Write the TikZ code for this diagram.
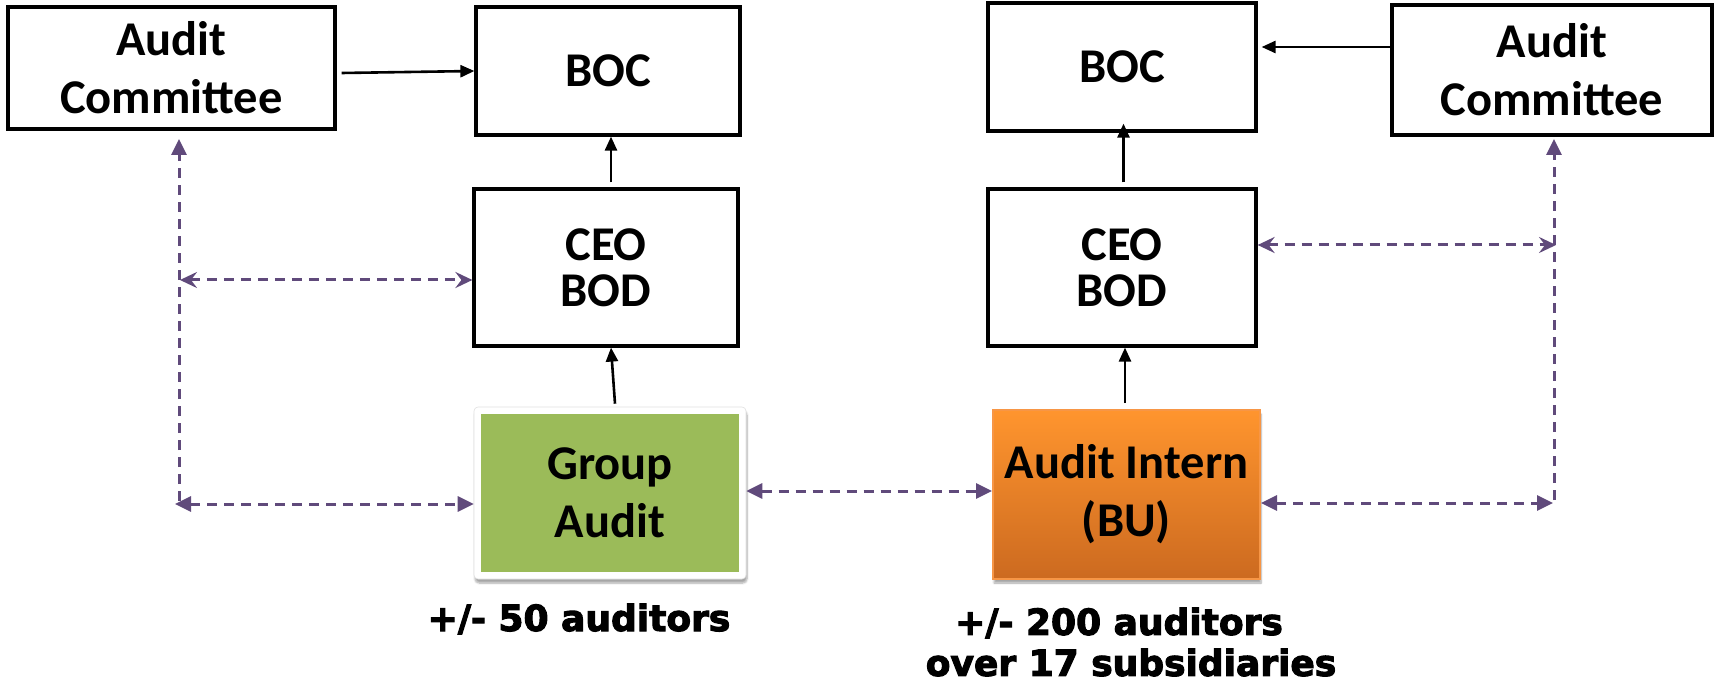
\documentclass[tikz,border=0pt]{standalone}
\usepackage{fontspec}
\setmainfont{Carlito}
\newfontfamily\labelfont{DejaVu Sans}[BoldFeatures={FakeBold=3}]
\usetikzlibrary{arrows.meta,shadows.blur,calc}

\definecolor{linkpurple}{RGB}{96,74,123}
\definecolor{groupgreen}{RGB}{155,187,89}
\definecolor{orangetop}{RGB}{255,149,46}
\definecolor{orangebot}{RGB}{204,106,32}
\definecolor{orangeedge}{RGB}{247,150,70}

\tikzset{
  orgbox/.style={draw=black, line width=3.2pt, fill=white, inner sep=0pt,
    align=center, font=\fontsize{48.5}{58}\selectfont\bfseries},
  tightlines/.style={font=\fontsize{48.5}{46}\selectfont\bfseries},
  report/.style={draw=black, line width=2.6pt, -{Triangle[length=14pt,width=12pt]}},
  link/.style={draw=linkpurple, line width=3pt, dash pattern=on 10pt off 7pt},
  ftip/.tip={Triangle[length=16pt,width=15pt]},
  btip/.tip={Stealth[length=17pt,width=16pt,inset=6pt]},
  headcount/.style={inner sep=0pt, align=center,
    font=\labelfont\fontsize{36}{41}\selectfont\bfseries}
}

\begin{document}
\begin{tikzpicture}[x=1pt,y=-1pt]
\useasboundingbox (0,0) rectangle (1721,684);

% ---- left organisation ----
\node[orgbox, minimum width=327pt, minimum height=122pt] (lac) at (171.5,68) {Audit\\Committee};
\node[orgbox, minimum width=264pt, minimum height=128pt] (lboc) at (608,71) {BOC};
\node[orgbox, tightlines, minimum width=264pt, minimum height=157pt] (lceo) at (606,267.5) {CEO\\BOD};
\node[fill=white, draw=black!12, line width=0.6pt, rounded corners=4pt,
      minimum width=272pt, minimum height=172pt, inner sep=0pt,
      blur shadow={shadow xshift=1pt, shadow yshift=-4pt, shadow blur steps=6, shadow opacity=35}]
      (ga) at (610,493) {};
\node[fill=groupgreen, minimum width=258pt, minimum height=158pt, inner sep=0pt,
      align=center, font=\fontsize{48.5}{58}\selectfont\bfseries] (gafill) at (ga.center) {Group\\Audit};
\node[headcount, anchor=base] (galabel) at (579,631) {+/- 50 auditors};

% ---- right organisation ----
\node[orgbox, minimum width=268pt, minimum height=128pt] (rboc) at (1122,67) {BOC};
\node[orgbox, minimum width=320pt, minimum height=130pt] (rac) at (1552,70) {Audit\\Committee};
\node[orgbox, tightlines, minimum width=268pt, minimum height=157pt] (rceo) at (1122,267.5) {CEO\\BOD};
\node[draw=orangeedge, line width=2pt, top color=orangetop, bottom color=orangebot,
      minimum width=267pt, minimum height=169pt, inner sep=0pt, align=center,
      font=\fontsize{48.5}{58}\selectfont\bfseries,
      blur shadow={shadow xshift=1pt, shadow yshift=-4pt, shadow blur steps=6, shadow opacity=35}]
      (ai) at (1126.5,494.5) {Audit Intern\\(BU)};
\node[headcount] (ailabel) at (1131,642) {+/- 200 auditors\hspace*{24pt}\\over 17 subsidiaries};

% ---- reporting lines ----
\draw[report] ([xshift=5pt,yshift=-5pt]lac.east) -- ([yshift=0pt]lboc.west);
\draw[report] ([xshift=5pt,yshift=5pt]lceo.north) -- ([xshift=3pt]lboc.south);
\draw[report] ([xshift=5pt,yshift=3pt]ga.north) -- ([xshift=5pt]lceo.south);
\draw[report] ([yshift=23pt]rac.west) -- ([xshift=4pt,yshift=20pt]rboc.east);
\draw[report] ([xshift=1.5pt,yshift=5pt]rceo.north) -- ([xshift=1.5pt,yshift=9pt]rboc.south);
\draw[report] ([xshift=-1.5pt,yshift=6pt]ai.north) -- ([xshift=3pt]rceo.south);

% ---- coordination links, left ----
\coordinate (lvtop) at (179,139);
\coordinate (lvbot) at (179,501);
\coordinate (lmid) at (180,280);
\coordinate (llow) at (175,504);
\draw[link, -ftip] (lvbot) -- (lvtop);
\draw[link, btip-btip] (lmid) -- (lceo.west |- lmid);
\draw[link, ftip-ftip] (llow) -- (ga.west |- llow);

% ---- coordination link between audit functions ----
\coordinate (gamid) at ([yshift=2pt]ga.east);
\draw[link, ftip-ftip] (gamid) -- (ai.west |- gamid);

% ---- coordination links, right ----
\coordinate (rvtop) at (1554,139);
\coordinate (rvbot) at (1554,500);
\coordinate (rmid) at (1556,245);
\coordinate (rlow) at (1553,503);
\draw[link, -ftip] (rvbot) -- (rvtop);
\draw[link, btip-btip] (rceo.east |- rmid) -- (rmid);
\draw[link, ftip-ftip] (ai.east |- rlow) -- (rlow);
\end{tikzpicture}
\end{document}
